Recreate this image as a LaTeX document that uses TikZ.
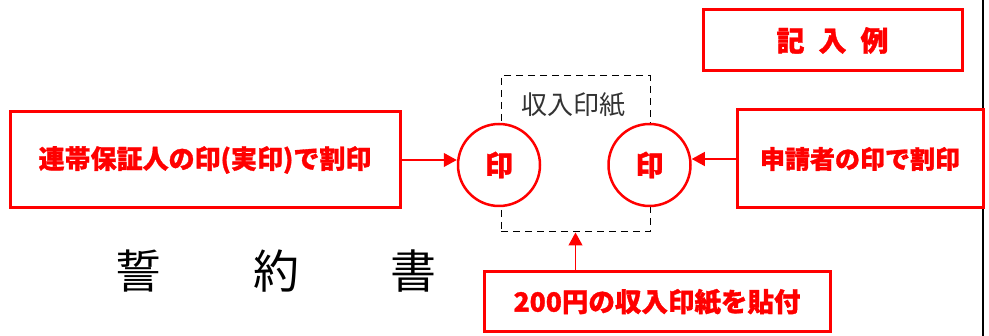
\documentclass[tikz,border=0pt]{standalone}
\usepackage{fontspec}
\usetikzlibrary{arrows.meta}
\newfontfamily\cjk{Noto Sans CJK JP}[BoldFeatures={FakeBold=1.2}]
\definecolor{sealred}{RGB}{255,0,0}
\definecolor{stampgray}{RGB}{51,51,51}
\tikzstyle{redbox}=[draw=sealred,line width=3pt,text=sealred,font=\cjk\bfseries,inner sep=0pt]
\tikzstyle{sealmark}=[circle,draw=sealred,line width=2.5pt,fill=white,text=sealred,minimum size=82pt,font=\cjk\bfseries\fontsize{28}{30}\selectfont]
\tikzstyle{pointer}=[-{Triangle[length=13pt,width=14pt]},draw=sealred,line width=1.2pt]
\newcommand{\bigsize}[1]{\fontsize{#1}{#1}\selectfont}

\begin{document}
\begin{tikzpicture}[x=1pt,y=-1pt]
  \useasboundingbox (0,0) rectangle (989,336);
  % frame line on the right
  \draw[line width=1.5pt] (983,0) -- (983,336);
  % stamp area
  \node[draw=black,dashed,dash pattern=on 7pt off 5pt,line width=1pt,minimum width=149pt,minimum height=156pt] (stamp) at (575.5,154) {};
  \node[text=stampgray,font=\cjk\bigsize{26}] (stamplabel) at (573,105) {収入印紙};
  \node[sealmark] (sealL) at (499,165) {印};
  \node[sealmark] (sealR) at (649.5,165) {印};
  % boxes
  \node[redbox,minimum width=259pt,minimum height=61pt] (example) at (832.5,40.5) {\bigsize{28}記\enspace 入\enspace 例};
  \node[redbox,minimum width=390pt,minimum height=96pt] (guarantor) at (205,160) {\bigsize{26}連帯保証人の印(実印)で割印};
  \node[redbox,minimum width=246pt,minimum height=98pt] (applicant) at (860,159) {\bigsize{25}申請者の印で割印};
  \node[redbox,minimum width=346pt,minimum height=60pt] (paste) at (657,302) {\bigsize{26.5}200円の収入印紙を貼付};
  % title
  \foreach \ch [count=\i] in {誓,約,書} {
    \node[font=\cjk\bigsize{46}] (title\i) at (138.5+137.5*\i-137.5,271) {\ch};
  }
  % pointers
  \draw[pointer] (guarantor.east) -- (guarantor.east -| sealL.west);
  \draw[pointer] (applicant.west) -- (applicant.west -| sealR.east);
  \draw[pointer] (paste.north -| stamp.south) -- (stamp.south);
\end{tikzpicture}
\end{document}
